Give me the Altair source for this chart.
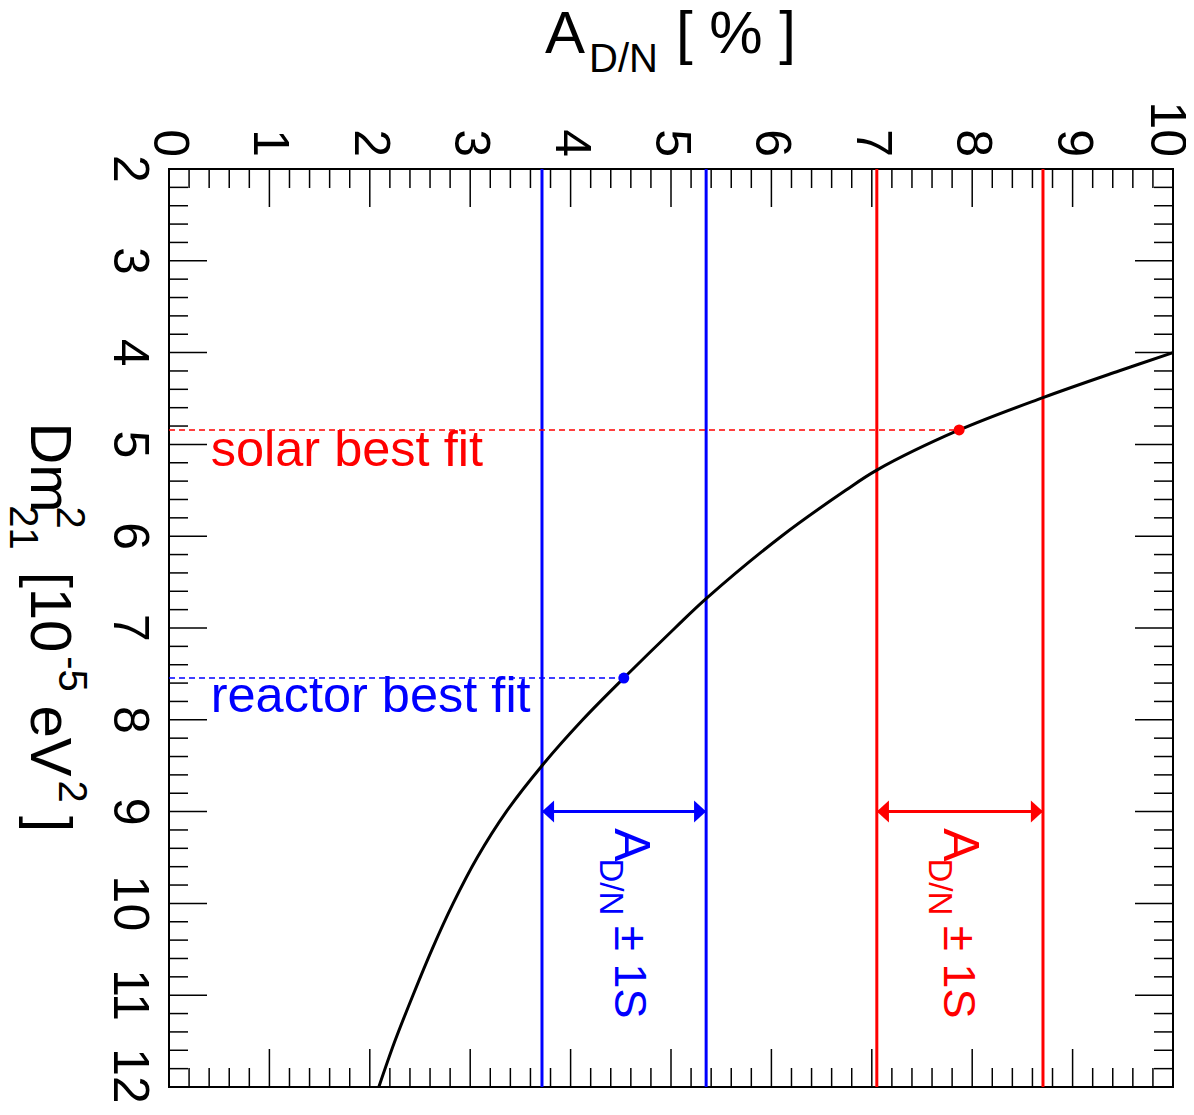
import altair as alt
import pandas as pd

# ---------------- data ----------------
# axis tick values
X_LABELS = [0, 1, 2, 3, 4, 5, 6, 7, 8, 9, 10]
Y_LABELS = [2, 3, 4, 5, 6, 7, 8, 9, 10, 11, 12]
X_MINOR = [0.2, 0.4, 0.6, 0.8, 1.2, 1.4, 1.6, 1.8, 2.2, 2.4, 2.6, 2.8, 3.2, 3.4, 3.6, 3.8,
           4.2, 4.4, 4.6, 4.8, 5.2, 5.4, 5.6, 5.8, 6.2, 6.4, 6.6, 6.8, 7.2, 7.4, 7.6, 7.8,
           8.2, 8.4, 8.6, 8.8, 9.2, 9.4, 9.6, 9.8]
Y_MINOR = [2.2, 2.4, 2.6, 2.8, 3.2, 3.4, 3.6, 3.8, 4.2, 4.4, 4.6, 4.8, 5.2, 5.4, 5.6, 5.8,
           6.2, 6.4, 6.6, 6.8, 7.2, 7.4, 7.6, 7.8, 8.2, 8.4, 8.6, 8.8, 9.2, 9.4, 9.6, 9.8,
           10.2, 10.4, 10.6, 10.8, 11.2, 11.4, 11.6, 11.8]

# curve: day/night asymmetry [%] vs dm^2_21 [1e-5 eV^2]
CURVE_DM = [4.0, 4.2, 4.49, 4.843, 5.28, 5.5, 6.0, 6.68, 7.0, 7.545, 8.0, 8.5,
            9.0, 9.5, 10.0, 10.5, 11.0, 11.5, 12.0]
CURVE_A = [10.0, 9.46, 8.705, 7.87, 7.05, 6.74, 6.1, 5.35, 5.04, 4.53, 4.12, 3.715,
           3.36, 3.07, 2.83, 2.62, 2.43, 2.25, 2.09]

# +-1 sigma bands
BLUE_BAND = [3.715, 5.35]
RED_BAND = [7.05, 8.705]
ARROW_DM = 9.0

# best fit points
BEST_NAMES = ["solar best fit", "reactor best fit"]
BEST_A = [7.87, 4.53]
BEST_DM = [4.843, 7.545]

FONT = "Liberation Sans"
BLUE = "#0000ff"
RED = "#ff0000"
W, H = 1004, 918

xs = alt.Scale(domain=[0, 10], nice=False, zero=False)
ys = alt.Scale(domain=[2, 12], nice=False, zero=False, reverse=True)

layers = []

# ---------- ticks (inside, on all four sides) ----------
def xticks(vals, y0, y1):
    return alt.Chart(pd.DataFrame({"v": vals})).mark_rule(color="black", strokeWidth=1.5).encode(
        x=alt.X("v:Q", scale=xs, axis=None), y=alt.value(y0), y2=alt.value(y1))

def yticks(vals, x0, x1):
    return alt.Chart(pd.DataFrame({"v": vals})).mark_rule(color="black", strokeWidth=1.5).encode(
        y=alt.Y("v:Q", scale=ys, axis=None), x=alt.value(x0), x2=alt.value(x1))

layers += [
    xticks(X_LABELS, 0, 38), xticks(X_MINOR, 0, 19),
    xticks(X_LABELS, H, H - 38), xticks(X_MINOR, H, H - 19),
    yticks(Y_LABELS, 0, 38), yticks(Y_MINOR, 0, 19),
    yticks(Y_LABELS, W, W - 38), yticks(Y_MINOR, W, W - 19),
]

# ---------- tick labels (rotated) ----------
def top_labels(vals, nudge):
    df = pd.DataFrame({"v": vals, "t": [str(v) for v in vals]})
    return alt.Chart(df).mark_text(font=FONT, fontSize=50, color="black", angle=90,
                                   align="right", baseline="middle", dy=nudge).encode(
        x=alt.X("v:Q", scale=xs, axis=None), y=alt.value(-12), text="t:N")

def left_labels(vals, nudge):
    df = pd.DataFrame({"v": vals, "t": [str(v) for v in vals]})
    return alt.Chart(df).mark_text(font=FONT, fontSize=50, color="black", angle=90,
                                   align="center", baseline="top", dx=nudge).encode(
        y=alt.Y("v:Q", scale=ys, axis=None), x=alt.value(-15), text="t:N")

# the last label on each axis is nudged slightly inwards so it stays inside the page
layers += [top_labels(X_LABELS[:-1], 0), top_labels(X_LABELS[-1:], 7),
           left_labels(Y_LABELS[:-1], 0), left_labels(Y_LABELS[-1:], -11)]

# ---------- vertical band lines ----------
def vlines(vals, color):
    df = pd.DataFrame({"a": vals, "lo": [2] * len(vals), "hi": [12] * len(vals)})
    return alt.Chart(df).mark_rule(color=color, strokeWidth=3).encode(
        x=alt.X("a:Q", scale=xs, axis=None),
        y=alt.Y("lo:Q", scale=ys, axis=None), y2="hi:Q")

layers += [vlines(BLUE_BAND, BLUE), vlines(RED_BAND, RED)]

# ---------- dashed lines to best-fit points ----------
for i, col in enumerate([RED, BLUE]):
    df = pd.DataFrame({"x0": [0], "a": [BEST_A[i]], "dm": [BEST_DM[i]]})
    layers.append(alt.Chart(df).mark_rule(color=col, strokeWidth=1.5, strokeDash=[6, 4]).encode(
        x=alt.X("x0:Q", scale=xs, axis=None), x2="a:Q",
        y=alt.Y("dm:Q", scale=ys, axis=None)))

# ---------- curve ----------
curve_df = pd.DataFrame({"a": CURVE_A, "dm": CURVE_DM})
layers.append(alt.Chart(curve_df).mark_line(color="black", strokeWidth=3,
                                            interpolate="catmull-rom").encode(
    x=alt.X("a:Q", scale=xs, axis=None),
    y=alt.Y("dm:Q", scale=ys, axis=None),
    order="dm:Q"))

# ---------- best fit dots ----------
for i, col in enumerate([RED, BLUE]):
    df = pd.DataFrame({"a": [BEST_A[i]], "dm": [BEST_DM[i]]})
    layers.append(alt.Chart(df).mark_circle(color=col, size=120, opacity=1).encode(
        x=alt.X("a:Q", scale=xs, axis=None), y=alt.Y("dm:Q", scale=ys, axis=None)))

# ---------- double arrows ----------
LEFT_HEAD = "M0,0L1.1,-1L1.1,1Z"
RIGHT_HEAD = "M0,0L-1.1,-1L-1.1,1Z"
for band, col in [(BLUE_BAND, BLUE), (RED_BAND, RED)]:
    df = pd.DataFrame({"lo": [band[0]], "hi": [band[1]], "dm": [ARROW_DM]})
    layers.append(alt.Chart(df).mark_rule(color=col, strokeWidth=3).encode(
        x=alt.X("lo:Q", scale=xs, axis=None), x2="hi:Q",
        y=alt.Y("dm:Q", scale=ys, axis=None)))
    layers.append(alt.Chart(df).mark_point(shape=LEFT_HEAD, size=484, filled=True,
                                           color=col, opacity=1, strokeWidth=0).encode(
        x=alt.X("lo:Q", scale=xs, axis=None), y=alt.Y("dm:Q", scale=ys, axis=None)))
    layers.append(alt.Chart(df).mark_point(shape=RIGHT_HEAD, size=484, filled=True,
                                           color=col, opacity=1, strokeWidth=0).encode(
        x=alt.X("hi:Q", scale=xs, axis=None), y=alt.Y("dm:Q", scale=ys, axis=None)))

# ---------- in-plot labels (data coordinates) ----------
LABEL_A = [0.415, 0.415]
LABEL_DM = [5.24, 7.92]
for i, col in enumerate([RED, BLUE]):
    df = pd.DataFrame({"t": [BEST_NAMES[i]], "a": [LABEL_A[i]], "dm": [LABEL_DM[i]]})
    layers.append(alt.Chart(df).mark_text(font=FONT, fontSize=50.5, color=col, align="left",
                                          baseline="alphabetic").encode(
        x=alt.X("a:Q", scale=xs, axis=None), y=alt.Y("dm:Q", scale=ys, axis=None), text="t:N"))

# rotated "A_D/N +- 1S" annotations
ROT_TEXT = ["A", "D/N", "±", "1S"]
ROT_SIZE = [50, 33, 46, 45]
ROT_DM = [9.364, 9.82, 10.38, 10.954]
ROT_A_BLUE = [4.447, 4.297, 4.447, 4.447]
ROT_A_RED = [7.717, 7.567, 7.717, 7.717]
for avals, col in [(ROT_A_BLUE, BLUE), (ROT_A_RED, RED)]:
    for j in range(len(ROT_TEXT)):
        df = pd.DataFrame({"t": [ROT_TEXT[j]], "a": [avals[j]], "dm": [ROT_DM[j]]})
        layers.append(alt.Chart(df).mark_text(font=FONT, fontSize=ROT_SIZE[j], color=col,
                                              angle=90, align="center",
                                              baseline="alphabetic").encode(
            x=alt.X("a:Q", scale=xs, axis=None), y=alt.Y("dm:Q", scale=ys, axis=None),
            text="t:N"))

# ---------- axis titles (composed, with sub/superscripts) ----------
# top title: A_{D/N} [ % ]
TOP_TITLE = [("A", 60, 376, -116), ("D/N", 40, 420, -97), ("[ % ]", 60, 507, -116)]
for t, fs, px, py in TOP_TITLE:
    layers.append(alt.Chart(pd.DataFrame({"t": [t]})).mark_text(
        font=FONT, fontSize=fs, color="black", align="left", baseline="alphabetic").encode(
        x=alt.value(px), y=alt.value(py), text="t:N"))

# left title: Dm^2_21 [10^-5 eV^2]  (rotated, segment centres along the axis)
LEFT_TITLE = [("Dm", 58, -138, 298.5), ("2", 40, -112, 348.5), ("21", 40, -159, 358.5),
              ("[10", 58, -138, 443), ("-5", 40, -110, 505), ("eV", 58, -138, 572),
              ("2", 40, -110, 622.5), ("]", 58, -138, 655)]
for t, fs, px, py in LEFT_TITLE:
    layers.append(alt.Chart(pd.DataFrame({"t": [t]})).mark_text(
        font=FONT, fontSize=fs, color="black", angle=90, align="center",
        baseline="alphabetic").encode(
        x=alt.value(px), y=alt.value(py), text="t:N"))

chart = alt.layer(*layers).properties(
    width=W, height=H,
    padding={"left": 161, "top": 161, "right": 13, "bottom": 14},
    autosize=alt.AutoSizeParams(type="none"),
    background="white",
).configure_view(stroke="black", strokeWidth=2)

chart.save("out.html", embed_options={"renderer": "svg", "actions": False})
